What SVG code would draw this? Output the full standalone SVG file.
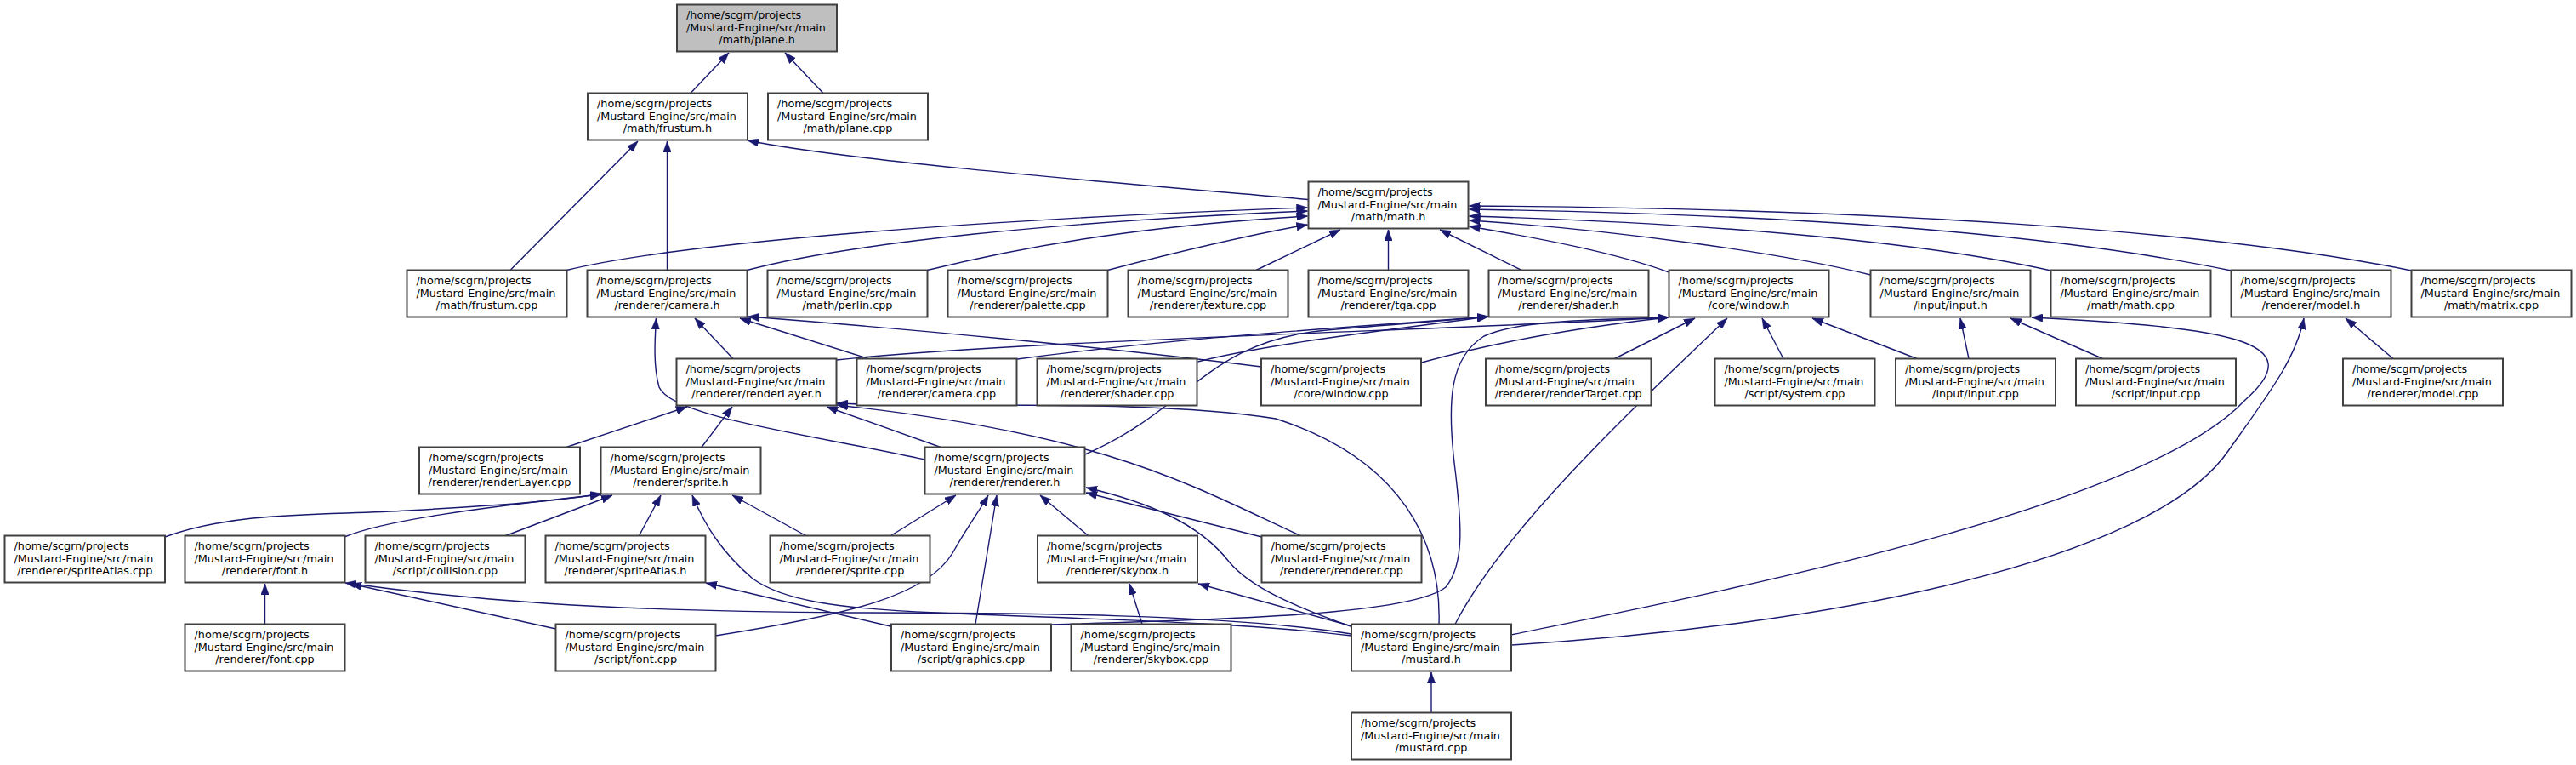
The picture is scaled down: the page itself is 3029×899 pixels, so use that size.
<svg xmlns="http://www.w3.org/2000/svg" width="3029" height="899" viewBox="0 0 3029 899">
<defs>
<style>
.n rect{fill:#ffffff;stroke:#404040;stroke-width:2}
.n.m rect{fill:#bfbfbf}
.n text{font-family:"DejaVu Sans","Liberation Sans",sans-serif;font-size:12.8px;fill:#000000}
.n text.c{text-anchor:middle}
.e path{fill:none;stroke:#191970;stroke-width:1.4;marker-end:url(#a)}
</style>
<marker id="a" viewBox="0 0 13 9.5" refX="13" refY="4.75" markerWidth="13" markerHeight="9.5" markerUnits="userSpaceOnUse" orient="auto">
<path d="M0,0 L13,4.75 L0,9.5 z" fill="#191970" stroke="#191970" stroke-width="0.5"/>
</marker>
</defs>
<rect x="0" y="0" width="3029" height="899" fill="#ffffff"/>
<g id="connectors" class="e">
<path d="M812,109.5 L857,62"/>
<path d="M968,109.5 L923,62"/>
<path d="M600,317.5 L750,166"/>
<path d="M784.5,317.5 L784.5,166"/>
<path d="M1538.5,234.5 C1350,218 1000,190 879,165"/>
<path d="M666.5,317.5 C800,285 1150,258 1537.5,244"/>
<path d="M878.5,317.5 C1000,285 1250,260 1537.5,248"/>
<path d="M1090.5,317.5 C1250,278 1400,262 1537.5,254"/>
<path d="M1302.5,317.5 C1400,292 1470,276 1537.5,264"/>
<path d="M1477,317.5 L1576,270"/>
<path d="M1632.5,317.5 L1632.5,270"/>
<path d="M1789,317.5 L1693,270"/>
<path d="M1962.5,320 C1900,297 1810,280 1727.5,266"/>
<path d="M2199.5,323 C2100,298 1900,270 1727.5,259"/>
<path d="M2411.5,318 C2250,282 2000,262 1727.5,254"/>
<path d="M2623.5,318 C2400,272 2100,252 1727.5,246"/>
<path d="M2835.5,318 C2600,270 2200,245 1727.5,242"/>
<path d="M862,421.5 L817,374"/>
<path d="M1021,421.5 L870,374"/>
<path d="M1483,431 C1300,408 1050,385 879.5,372"/>
<path d="M1087.5,540 C950,510 790,490 775,455 C768,430 770,400 771.5,374"/>
<path d="M825,525.5 L861,478"/>
<path d="M666,525.5 L808,478"/>
<path d="M1106,525.5 L972,478"/>
<path d="M1529,629.5 C1400,570 1300,510 984,476"/>
<path d="M1692,733.5 C1695,640 1650,540 1500,492 C1350,468 1100,480 984,474"/>
<path d="M1196,422 C1400,395 1600,384 1750,372"/>
<path d="M1408.5,425 C1500,402 1650,386 1750,372"/>
<path d="M1276,534 C1400,480 1420,400 1560,388 C1650,380 1700,377 1750,372"/>
<path d="M983.5,423 C1200,400 1700,388 1962,373"/>
<path d="M1671.5,426 C1780,396 1880,382 1962,373"/>
<path d="M1236,734 C1450,728 1660,722 1700,690 C1725,660 1716,600 1712,560 C1700,470 1705,420 1745,395 C1790,375 1880,376 1962,373"/>
<path d="M1898.5,421.5 L1993,374"/>
<path d="M1711,733.5 C1770,620 1920,480 2031,374"/>
<path d="M2097,421.5 L2072,374"/>
<path d="M2254,421.5 L2131,374"/>
<path d="M2315,421.5 L2305,374"/>
<path d="M2472.5,421.5 L2364,374"/>
<path d="M1777,746 C2000,700 2520,600 2640,470 C2720,400 2620,385 2389,373"/>
<path d="M1777,758 C2150,735 2530,660 2620,530 C2670,460 2700,420 2709,374"/>
<path d="M2814,421.5 L2758,374"/>
<path d="M1683,837.5 L1683,790"/>
<path d="M194,631 C280,600 380,606 480,600 C580,594 650,590 707,580"/>
<path d="M405,631 C450,612 560,597 707,581"/>
<path d="M594.6,629.5 L720,582"/>
<path d="M751.5,629.5 L777,582"/>
<path d="M947.6,629.5 L861,582"/>
<path d="M1589,747 C1450,730 1250,727 1100,720 C980,715 920,705 885,680 C850,650 830,620 814,582"/>
<path d="M1589,745 C1450,722 1200,720 1000,720 C700,718 550,705 406,685"/>
<path d="M311.5,733.5 L311.5,686"/>
<path d="M653.5,739 L412,686"/>
<path d="M1047,736 L830,685"/>
<path d="M1047.5,629.5 L1124,582"/>
<path d="M841.5,747 C1000,722 1090,700 1120,650 C1140,615 1152,600 1162,582"/>
<path d="M1147,733.5 L1172,582"/>
<path d="M1279.6,629.5 L1223,582"/>
<path d="M1483.5,631 L1277,579"/>
<path d="M1591,737 C1520,712 1470,690 1445,660 C1410,615 1350,590 1277,573"/>
<path d="M1343,733.5 L1328,686"/>
<path d="M1590,736 L1409,686"/>
</g>
<g id="n_plane_h" class="n m"><rect x="796" y="5.5" width="188" height="55"/><text x="807" y="22.2">/home/scgrn/projects</text><text x="807" y="36.5">/Mustard-Engine/src/main</text><text class="c" x="890" y="50.8">/math/plane.h</text></g>
<g id="n_frustum_h" class="n"><rect x="691" y="109.5" width="188" height="55"/><text x="702" y="126.2">/home/scgrn/projects</text><text x="702" y="140.5">/Mustard-Engine/src/main</text><text class="c" x="785" y="154.8">/math/frustum.h</text></g>
<g id="n_plane_cpp" class="n"><rect x="903" y="109.5" width="188" height="55"/><text x="914" y="126.2">/home/scgrn/projects</text><text x="914" y="140.5">/Mustard-Engine/src/main</text><text class="c" x="997" y="154.8">/math/plane.cpp</text></g>
<g id="n_math_h" class="n"><rect x="1538.5" y="213.5" width="188" height="55"/><text x="1549.5" y="230.2">/home/scgrn/projects</text><text x="1549.5" y="244.5">/Mustard-Engine/src/main</text><text class="c" x="1632.5" y="258.8">/math/math.h</text></g>
<g id="n_frustum_cpp" class="n"><rect x="478.5" y="317.5" width="188" height="55"/><text x="489.5" y="334.2">/home/scgrn/projects</text><text x="489.5" y="348.5">/Mustard-Engine/src/main</text><text class="c" x="572.5" y="362.8">/math/frustum.cpp</text></g>
<g id="n_camera_h" class="n"><rect x="690.5" y="317.5" width="188" height="55"/><text x="701.5" y="334.2">/home/scgrn/projects</text><text x="701.5" y="348.5">/Mustard-Engine/src/main</text><text class="c" x="784.5" y="362.8">/renderer/camera.h</text></g>
<g id="n_perlin_cpp" class="n"><rect x="902.5" y="317.5" width="188" height="55"/><text x="913.5" y="334.2">/home/scgrn/projects</text><text x="913.5" y="348.5">/Mustard-Engine/src/main</text><text class="c" x="996.5" y="362.8">/math/perlin.cpp</text></g>
<g id="n_palette_cpp" class="n"><rect x="1114.5" y="317.5" width="188" height="55"/><text x="1125.5" y="334.2">/home/scgrn/projects</text><text x="1125.5" y="348.5">/Mustard-Engine/src/main</text><text class="c" x="1208.5" y="362.8">/renderer/palette.cpp</text></g>
<g id="n_texture_cpp" class="n"><rect x="1326.5" y="317.5" width="188" height="55"/><text x="1337.5" y="334.2">/home/scgrn/projects</text><text x="1337.5" y="348.5">/Mustard-Engine/src/main</text><text class="c" x="1420.5" y="362.8">/renderer/texture.cpp</text></g>
<g id="n_tga_cpp" class="n"><rect x="1538.5" y="317.5" width="188" height="55"/><text x="1549.5" y="334.2">/home/scgrn/projects</text><text x="1549.5" y="348.5">/Mustard-Engine/src/main</text><text class="c" x="1632.5" y="362.8">/renderer/tga.cpp</text></g>
<g id="n_shader_h" class="n"><rect x="1750.5" y="317.5" width="188" height="55"/><text x="1761.5" y="334.2">/home/scgrn/projects</text><text x="1761.5" y="348.5">/Mustard-Engine/src/main</text><text class="c" x="1844.5" y="362.8">/renderer/shader.h</text></g>
<g id="n_window_h" class="n"><rect x="1962.5" y="317.5" width="188" height="55"/><text x="1973.5" y="334.2">/home/scgrn/projects</text><text x="1973.5" y="348.5">/Mustard-Engine/src/main</text><text class="c" x="2056.5" y="362.8">/core/window.h</text></g>
<g id="n_input_h" class="n"><rect x="2199.5" y="317.5" width="188" height="55"/><text x="2210.5" y="334.2">/home/scgrn/projects</text><text x="2210.5" y="348.5">/Mustard-Engine/src/main</text><text class="c" x="2293.5" y="362.8">/input/input.h</text></g>
<g id="n_math_cpp" class="n"><rect x="2411.5" y="317.5" width="188" height="55"/><text x="2422.5" y="334.2">/home/scgrn/projects</text><text x="2422.5" y="348.5">/Mustard-Engine/src/main</text><text class="c" x="2505.5" y="362.8">/math/math.cpp</text></g>
<g id="n_model_h" class="n"><rect x="2623.5" y="317.5" width="188" height="55"/><text x="2634.5" y="334.2">/home/scgrn/projects</text><text x="2634.5" y="348.5">/Mustard-Engine/src/main</text><text class="c" x="2717.5" y="362.8">/renderer/model.h</text></g>
<g id="n_matrix_cpp" class="n"><rect x="2835.5" y="317.5" width="188" height="55"/><text x="2846.5" y="334.2">/home/scgrn/projects</text><text x="2846.5" y="348.5">/Mustard-Engine/src/main</text><text class="c" x="2929.5" y="362.8">/math/matrix.cpp</text></g>
<g id="n_renderLayer_h" class="n"><rect x="795.5" y="421.5" width="188" height="55"/><text x="806.5" y="438.2">/home/scgrn/projects</text><text x="806.5" y="452.5">/Mustard-Engine/src/main</text><text class="c" x="889.5" y="466.8">/renderer/renderLayer.h</text></g>
<g id="n_camera_cpp" class="n"><rect x="1007.5" y="421.5" width="188" height="55"/><text x="1018.5" y="438.2">/home/scgrn/projects</text><text x="1018.5" y="452.5">/Mustard-Engine/src/main</text><text class="c" x="1101.5" y="466.8">/renderer/camera.cpp</text></g>
<g id="n_shader_cpp" class="n"><rect x="1219.5" y="421.5" width="188" height="55"/><text x="1230.5" y="438.2">/home/scgrn/projects</text><text x="1230.5" y="452.5">/Mustard-Engine/src/main</text><text class="c" x="1313.5" y="466.8">/renderer/shader.cpp</text></g>
<g id="n_window_cpp" class="n"><rect x="1483" y="421.5" width="188" height="55"/><text x="1494" y="438.2">/home/scgrn/projects</text><text x="1494" y="452.5">/Mustard-Engine/src/main</text><text class="c" x="1577" y="466.8">/core/window.cpp</text></g>
<g id="n_renderTarget_cpp" class="n"><rect x="1747" y="421.5" width="194.5" height="55"/><text x="1758" y="438.2">/home/scgrn/projects</text><text x="1758" y="452.5">/Mustard-Engine/src/main</text><text class="c" x="1844.25" y="466.8">/renderer/renderTarget.cpp</text></g>
<g id="n_system_cpp" class="n"><rect x="2016.5" y="421.5" width="188" height="55"/><text x="2027.5" y="438.2">/home/scgrn/projects</text><text x="2027.5" y="452.5">/Mustard-Engine/src/main</text><text class="c" x="2110.5" y="466.8">/script/system.cpp</text></g>
<g id="n_input_cpp" class="n"><rect x="2229" y="421.5" width="188" height="55"/><text x="2240" y="438.2">/home/scgrn/projects</text><text x="2240" y="452.5">/Mustard-Engine/src/main</text><text class="c" x="2323" y="466.8">/input/input.cpp</text></g>
<g id="n_script_input_cpp" class="n"><rect x="2441" y="421.5" width="188" height="55"/><text x="2452" y="438.2">/home/scgrn/projects</text><text x="2452" y="452.5">/Mustard-Engine/src/main</text><text class="c" x="2535" y="466.8">/script/input.cpp</text></g>
<g id="n_model_cpp" class="n"><rect x="2755" y="421.5" width="188" height="55"/><text x="2766" y="438.2">/home/scgrn/projects</text><text x="2766" y="452.5">/Mustard-Engine/src/main</text><text class="c" x="2849" y="466.8">/renderer/model.cpp</text></g>
<g id="n_renderLayer_cpp" class="n"><rect x="493" y="525.5" width="189" height="55"/><text x="504" y="542.2">/home/scgrn/projects</text><text x="504" y="556.5">/Mustard-Engine/src/main</text><text class="c" x="587.5" y="570.8">/renderer/renderLayer.cpp</text></g>
<g id="n_sprite_h" class="n"><rect x="706.5" y="525.5" width="188" height="55"/><text x="717.5" y="542.2">/home/scgrn/projects</text><text x="717.5" y="556.5">/Mustard-Engine/src/main</text><text class="c" x="800.5" y="570.8">/renderer/sprite.h</text></g>
<g id="n_renderer_h" class="n"><rect x="1087.5" y="525.5" width="188" height="55"/><text x="1098.5" y="542.2">/home/scgrn/projects</text><text x="1098.5" y="556.5">/Mustard-Engine/src/main</text><text class="c" x="1181.5" y="570.8">/renderer/renderer.h</text></g>
<g id="n_spriteAtlas_cpp" class="n"><rect x="5.5" y="629.5" width="188.5" height="55"/><text x="16.5" y="646.2">/home/scgrn/projects</text><text x="16.5" y="660.5">/Mustard-Engine/src/main</text><text class="c" x="99.75" y="674.8">/renderer/spriteAtlas.cpp</text></g>
<g id="n_font_h" class="n"><rect x="217.5" y="629.5" width="188" height="55"/><text x="228.5" y="646.2">/home/scgrn/projects</text><text x="228.5" y="660.5">/Mustard-Engine/src/main</text><text class="c" x="311.5" y="674.8">/renderer/font.h</text></g>
<g id="n_collision_cpp" class="n"><rect x="429.5" y="629.5" width="188" height="55"/><text x="440.5" y="646.2">/home/scgrn/projects</text><text x="440.5" y="660.5">/Mustard-Engine/src/main</text><text class="c" x="523.5" y="674.8">/script/collision.cpp</text></g>
<g id="n_spriteAtlas_h" class="n"><rect x="641.5" y="629.5" width="188" height="55"/><text x="652.5" y="646.2">/home/scgrn/projects</text><text x="652.5" y="660.5">/Mustard-Engine/src/main</text><text class="c" x="735.5" y="674.8">/renderer/spriteAtlas.h</text></g>
<g id="n_sprite_cpp" class="n"><rect x="905.5" y="629.5" width="188" height="55"/><text x="916.5" y="646.2">/home/scgrn/projects</text><text x="916.5" y="660.5">/Mustard-Engine/src/main</text><text class="c" x="999.5" y="674.8">/renderer/sprite.cpp</text></g>
<g id="n_skybox_h" class="n"><rect x="1220" y="629.5" width="188" height="55"/><text x="1231" y="646.2">/home/scgrn/projects</text><text x="1231" y="660.5">/Mustard-Engine/src/main</text><text class="c" x="1314" y="674.8">/renderer/skybox.h</text></g>
<g id="n_renderer_cpp" class="n"><rect x="1483.5" y="629.5" width="188" height="55"/><text x="1494.5" y="646.2">/home/scgrn/projects</text><text x="1494.5" y="660.5">/Mustard-Engine/src/main</text><text class="c" x="1577.5" y="674.8">/renderer/renderer.cpp</text></g>
<g id="n_font_cpp" class="n"><rect x="217.5" y="733.5" width="188" height="55"/><text x="228.5" y="750.2">/home/scgrn/projects</text><text x="228.5" y="764.5">/Mustard-Engine/src/main</text><text class="c" x="311.5" y="778.8">/renderer/font.cpp</text></g>
<g id="n_script_font_cpp" class="n"><rect x="653.5" y="733.5" width="188" height="55"/><text x="664.5" y="750.2">/home/scgrn/projects</text><text x="664.5" y="764.5">/Mustard-Engine/src/main</text><text class="c" x="747.5" y="778.8">/script/font.cpp</text></g>
<g id="n_graphics_cpp" class="n"><rect x="1048" y="733.5" width="188" height="55"/><text x="1059" y="750.2">/home/scgrn/projects</text><text x="1059" y="764.5">/Mustard-Engine/src/main</text><text class="c" x="1142" y="778.8">/script/graphics.cpp</text></g>
<g id="n_skybox_cpp" class="n"><rect x="1259.5" y="733.5" width="188" height="55"/><text x="1270.5" y="750.2">/home/scgrn/projects</text><text x="1270.5" y="764.5">/Mustard-Engine/src/main</text><text class="c" x="1353.5" y="778.8">/renderer/skybox.cpp</text></g>
<g id="n_mustard_h" class="n"><rect x="1589" y="733.5" width="188" height="55"/><text x="1600" y="750.2">/home/scgrn/projects</text><text x="1600" y="764.5">/Mustard-Engine/src/main</text><text class="c" x="1683" y="778.8">/mustard.h</text></g>
<g id="n_mustard_cpp" class="n"><rect x="1589" y="837.5" width="188" height="55"/><text x="1600" y="854.2">/home/scgrn/projects</text><text x="1600" y="868.5">/Mustard-Engine/src/main</text><text class="c" x="1683" y="882.8">/mustard.cpp</text></g>
</svg>
